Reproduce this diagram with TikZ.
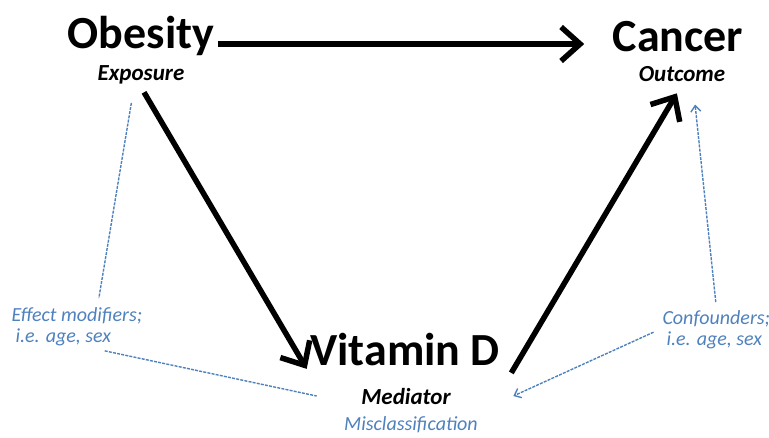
\documentclass[tikz,border=0pt]{standalone}
\usepackage{fontspec}
\setmainfont{Carlito}
\usetikzlibrary{arrows.meta,positioning}
\definecolor{modblue}{RGB}{79,129,189}

\begin{document}
\begin{tikzpicture}[
    x=1pt, y=-1pt,
    var/.style={font=\fontsize{46pt}{50pt}\selectfont\bfseries, anchor=base},
    role/.style={font=\fontsize{23pt}{26pt}\selectfont\bfseries\itshape, anchor=base},
    note/.style={font=\fontsize{20pt}{21pt}\selectfont\itshape, text=modblue,
                 align=left, anchor=north west},
    causal/.style={line width=5.5pt, -{Straight Barb[length=19pt,width=34pt]}},
    modline/.style={modblue, line width=1.4pt, dash pattern=on 3pt off 1.2pt},
    confarrow/.style={modline, -{Straight Barb[length=6pt,width=10pt]}},
]
\useasboundingbox (0,0) rectangle (769,437);

% === Variables ===
\node[var] (obesity) at (141, 48)  {Obesity};
\node[var] (cancer)  at (678, 51)  {Cancer};
\node[var] (vitamin) at (405, 365) {Vitamin D};

% === Roles (below each variable) ===
\node[role] (exposure) at (141, 80)  {Exposure};
\node[role] (outcome)  at (682, 81)  {Outcome};
\node[role] (mediator) at (406, 404) {Mediator};
\node[role, font=\fontsize{20pt}{23pt}\selectfont\itshape, text=modblue]
  (misclass) at (411, 430) {Misclassification};

% === Side notes ===
\node[note] (effect)      at (8, 304)   {Effect modifiers;\\\hspace*{4pt}i.e. age, sex};
\node[note] (confounders) at (659, 307) {Confounders;\\\hspace*{4pt}i.e. age, sex};

% === Causal arrows ===
\draw[causal, shorten >=25pt]
  ([yshift=4pt]obesity.base east) -- ([yshift=4pt]obesity.base east -| cancer.west);
\draw[causal, shorten <=6pt] (exposure.south) -- (vitamin.south west);
\draw[causal, shorten >=10pt]
  ([xshift=8pt,yshift=-4pt]vitamin.south east) -- (outcome.south);

% === Effect modifiers (dashed, no heads) ===
\draw[modline, shorten <=16pt, shorten >=6pt]
  ([xshift=-7pt]exposure.south) -- ([xshift=21pt]effect.north);
\draw[modline, shorten <=7pt]
  ([xshift=21pt]effect.south) -- ([xshift=10pt]mediator.west -| vitamin.south west);

% === Confounders (dashed arrows) ===
\draw[confarrow, shorten <=5pt, shorten >=20pt]
  (confounders.north) -- ([xshift=11pt]outcome.south);
\draw[confarrow, shorten <=6pt]
  (confounders.west) -- ([xshift=10pt]mediator.east -| vitamin.south east);

\end{tikzpicture}
\end{document}
